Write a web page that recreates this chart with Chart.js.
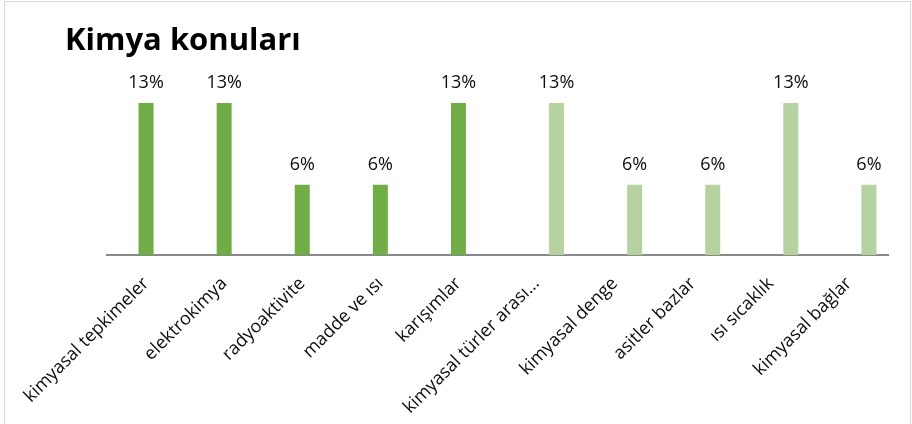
<!DOCTYPE html>
<html>
<head>
<meta charset="utf-8">
<script src="https://cdn.jsdelivr.net/npm/chart.js@4/dist/chart.umd.min.js"></script>
<style>
html,body{margin:0;padding:0;background:#fff;width:912px;height:424px;overflow:hidden}
#frame{position:absolute;left:4px;top:1px;width:907px;height:440px;border:1px solid #d9d9d9;box-sizing:border-box}
#c{position:absolute;left:0;top:0}
</style>
</head>
<body>
<div id="frame"></div>
<canvas id="c" width="912" height="424"></canvas>
<script>
const titleText = "Kimya konuları";
const categories = ["kimyasal tepkimeler", "elektrokimya", "radyoaktivite", "madde ve ısı", "karışımlar",
  "kimyasal türler arası...", "kimyasal denge", "asitler bazlar", "ısı sıcaklık", "kimyasal bağlar"];
const firstGroupValues  = [13, 13, 6, 6, 13, null, null, null, null, null];
const secondGroupValues = [null, null, null, null, null, 13, 6, 6, 13, 6];
const emptySlotValues   = [null, null, null, null, null, null, null, null, null, null];

const FONT = '"Open Sans", "Noto Sans", sans-serif';
const TEXT = '#0d0d0d';

const valueLabels = {
  id: 'valueLabels',
  afterDatasetsDraw(chart) {
    const ctx = chart.ctx;
    ctx.save();
    ctx.font = '18px ' + FONT;
    ctx.fillStyle = TEXT;
    ctx.textAlign = 'center';
    ctx.textBaseline = 'alphabetic';
    chart.data.datasets.forEach((ds, i) => {
      const meta = chart.getDatasetMeta(i);
      meta.data.forEach((bar, j) => {
        const v = ds.data[j];
        if (v === null || v === undefined) return;
        ctx.fillText(v + '%', bar.x, bar.y - 15);
      });
    });
    ctx.restore();
  }
};

new Chart(document.getElementById('c'), {
  type: 'bar',
  data: {
    labels: categories,
    datasets: [
      { label: '', data: emptySlotValues, backgroundColor: 'rgba(0,0,0,0)' },
      { label: 'A', data: firstGroupValues, backgroundColor: '#70AD47' },
      { label: 'B', data: secondGroupValues, backgroundColor: '#B5D2A0' }
    ]
  },
  options: {
    responsive: false,
    animation: false,
    devicePixelRatio: 1,
    datasets: { bar: { categoryPercentage: 0.768, barPercentage: 0.75 } },
    layout: { padding: { left: 65, right: 24, top: 0, bottom: 0 } },
    plugins: {
      legend: { display: false },
      tooltip: { enabled: false },
      title: {
        display: true,
        text: titleText,
        align: 'start',
        color: '#000',
        font: { family: FONT, size: 31, weight: 'bold', lineHeight: 1.2 },
        padding: { top: 22.6, bottom: 31.5 }
      }
    },
    scales: {
      x: {
        grid: { display: false, drawTicks: false },
        border: { display: true, color: '#898989', width: 2 },
        ticks: {
          autoSkip: false, minRotation: 45, maxRotation: 45, padding: 18,
          color: TEXT, font: { family: FONT, size: 18 }
        },
        afterFit(s) { s.paddingLeft = 107; s.paddingRight = 0; s.height = 169; }
      },
      y: { display: false, min: 0, max: 14 }
    }
  },
  plugins: [valueLabels]
});
</script>
</body>
</html>
